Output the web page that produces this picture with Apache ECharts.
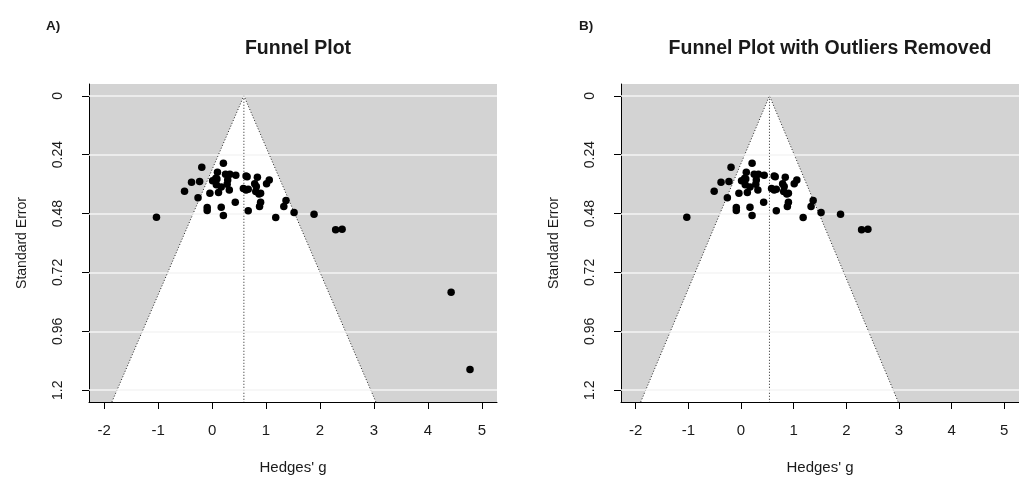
<!DOCTYPE html>
<html>
<head>
<meta charset="utf-8">
<title>Funnel plots</title>
<script src="https://cdn.jsdelivr.net/npm/echarts@6/dist/echarts.min.js"></script>
<style>
  html, body { margin: 0; padding: 0; background: #fff; }
  #chart { width: 1019px; height: 481px; }
</style>
</head>
<body>
<div id="chart"></div>
<script>
// study effects (Hedges' g) and their standard errors
var hedgesG = [
  -1.03, -0.19, -0.38, -0.23, -0.51, -0.26, 0.21, 0.10, 0.25, 0.33,
  0.44, 0.01, 0.09, 0.29, 0.08, 0.28, 0.17, 0.32, -0.04, 0.12,
  -0.09, -0.09, 0.17, 0.21, 0.43, 0.63, 0.65, 0.58, 0.63, 0.67,
  0.67, 0.84, 0.79, 0.82, 0.81, 0.87, 0.90, 0.90, 0.88, 1.01,
  1.06, 1.18, 1.37, 1.33, 1.52, 1.89, 2.29, 2.41, 0.07
]
var stdErr = [
  0.495, 0.291, 0.352, 0.349, 0.389, 0.416, 0.275, 0.312, 0.320, 0.320,
  0.324, 0.346, 0.339, 0.343, 0.363, 0.361, 0.372, 0.384, 0.397, 0.394,
  0.455, 0.468, 0.454, 0.488, 0.434, 0.327, 0.330, 0.378, 0.384, 0.381,
  0.469, 0.332, 0.359, 0.370, 0.390, 0.400, 0.397, 0.434, 0.451, 0.359,
  0.343, 0.496, 0.427, 0.451, 0.476, 0.483, 0.546, 0.544, 0.336
]
// the two studies dropped in panel B
var outlierG = [4.43, 4.78]
var outlierSE = [0.801, 1.116]

// pooled estimates
var pooledA = 0.59
var pooledB = 0.54

var xTicks = [-2, -1, 0, 1, 2, 3, 4, 5]
var yTicks = [0, 0.24, 0.48, 0.72, 0.96, 1.2]

var xRange = [-2.28, 5.28]
var yRange = [-0.048, 1.248]

var font = 'Liberation Sans, Arial, sans-serif'
var ink = '#1a1a1a'

function pairs(xs, ys) {
  return xs.map(function(x, i) { return [x, ys[i]] })
}

function makeAxes(idx) {
  var xAxis = {
    type: 'value',
    gridIndex: idx,
    min: xRange[0],
    max: xRange[1],
    name: "Hedges' g",
    nameLocation: 'middle',
    nameGap: 58,
    nameTextStyle: { color: ink, fontSize: 15, fontFamily: font },
    axisLine: { show: true, onZero: false, lineStyle: { color: '#000', width: 1 } },
    axisTick: { show: true, inside: false, length: 7, customValues: xTicks, lineStyle: { color: '#000' } },
    axisLabel: { customValues: xTicks, margin: 21, color: ink, fontSize: 15, fontFamily: font },
    splitLine: { show: false }
  }
  var yAxis = {
    type: 'value',
    gridIndex: idx,
    inverse: true,
    min: yRange[0],
    max: yRange[1],
    name: 'Standard Error',
    nameLocation: 'middle',
    nameRotate: 90,
    nameGap: 60,
    nameTextStyle: { color: ink, fontSize: 14, fontFamily: font },
    axisLine: { show: true, onZero: false, lineStyle: { color: '#000', width: 1 } },
    axisTick: { show: true, inside: false, length: 7, customValues: yTicks, lineStyle: { color: '#000' } },
    axisLabel: { customValues: yTicks, rotate: 90, margin: 24, color: ink, fontSize: 14, fontFamily: font },
    splitLine: { show: false }
  }
  return { x: xAxis, y: yAxis }
}

function makeSeries(idx, est, points) {
  var bottom = yRange[1]
  var half = 1.96 * bottom
  return [
    {
      // white pseudo-confidence region
      type: 'custom',
      xAxisIndex: idx,
      yAxisIndex: idx,
      silent: true,
      z: 1,
      data: [[est, 0]],
      renderItem: function(params, api) {
        var pts = [
          api.coord([est - half, bottom]),
          api.coord([est, 0]),
          api.coord([est + half, bottom])
        ]
        return { type: 'polygon', shape: { points: pts }, style: { fill: '#fff' } }
      }
    },
    {
      // funnel edges
      type: 'line',
      xAxisIndex: idx,
      yAxisIndex: idx,
      silent: true,
      z: 3,
      symbol: 'none',
      data: [[est - half, bottom], [est, 0], [est + half, bottom]],
      lineStyle: { color: '#222', width: 1, type: [1, 2] },
      markLine: {
        silent: true,
        symbol: 'none',
        label: { show: false },
        lineStyle: { color: '#f4f4f4', width: 1.5, type: 'solid' },
        data: yTicks.map(function(v) { return { yAxis: v } })
      }
    },
    {
      // line at the pooled estimate
      type: 'line',
      xAxisIndex: idx,
      yAxisIndex: idx,
      silent: true,
      z: 3,
      symbol: 'none',
      data: [[est, 0], [est, bottom]],
      lineStyle: { color: '#222', width: 1, type: [1, 2] }
    },
    {
      type: 'scatter',
      xAxisIndex: idx,
      yAxisIndex: idx,
      z: 5,
      symbol: 'circle',
      symbolSize: 7.5,
      itemStyle: { color: '#000', opacity: 1 },
      data: points
    }
  ]
}

var myChart = echarts.init(document.getElementById('chart'))

var axA = makeAxes(0)
var axB = makeAxes(1)
var pointsA = pairs(hedgesG, stdErr).concat(pairs(outlierG, outlierSE))
var pointsB = pairs(hedgesG, stdErr)

myChart.setOption({
  animation: false,
  backgroundColor: '#fff',
  title: [
    { text: 'A)', left: 41, top: 14, textStyle: { fontSize: 13.5, fontWeight: 'bold', color: ink, fontFamily: font } },
    { text: 'B)', left: 574, top: 14, textStyle: { fontSize: 13.5, fontWeight: 'bold', color: ink, fontFamily: font } },
    { text: 'Funnel Plot', left: 293, top: 34, textAlign: 'center',
      textStyle: { fontSize: 19.5, fontWeight: 'bold', color: ink, fontFamily: font } },
    { text: 'Funnel Plot with Outliers Removed', left: 825, top: 34, textAlign: 'center',
      textStyle: { fontSize: 19.5, fontWeight: 'bold', color: ink, fontFamily: font } }
  ],
  grid: [
    { left: 89, top: 84, width: 408, height: 318, show: true, backgroundColor: '#d3d3d3', borderWidth: 0 },
    { left: 621, top: 84, width: 408, height: 318, show: true, backgroundColor: '#d3d3d3', borderWidth: 0 }
  ],
  xAxis: [axA.x, axB.x],
  yAxis: [axA.y, axB.y],
  series: makeSeries(0, pooledA, pointsA).concat(makeSeries(1, pooledB, pointsB))
})

window.onresize = function() {
  myChart.resize()
}
</script>
</body>
</html>
